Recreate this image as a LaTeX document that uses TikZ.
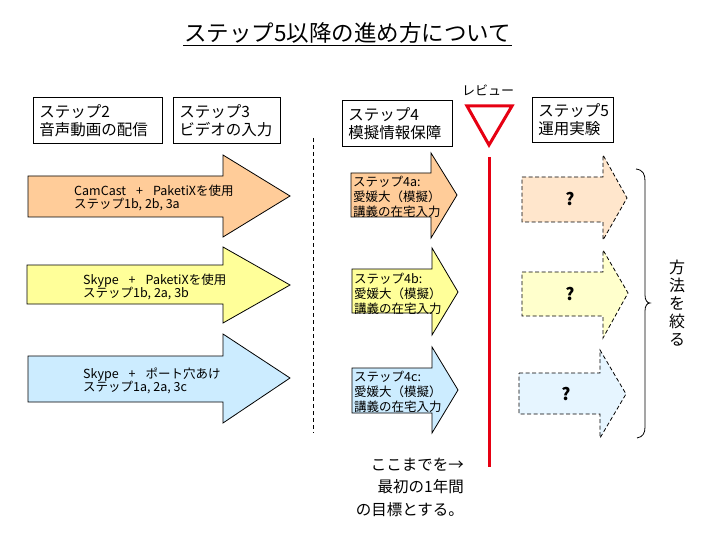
\documentclass[tikz,border=0pt]{standalone}
\usepackage{fontspec}
\setmainfont{Noto Sans CJK JP}
\definecolor{aorange}{RGB}{255,204,153}
\definecolor{ayellow}{RGB}{255,255,153}
\definecolor{ablue}{RGB}{204,236,255}
\definecolor{rvred}{RGB}{230,0,18}
\newcommand{\plusgap}{\hspace{10pt}+\hspace{10pt}}
\begin{document}
\begin{tikzpicture}[x=1pt,y=-1pt,
  stepbox/.style={draw, line width=0.8pt, inner xsep=6pt, inner ysep=0pt, align=left, anchor=north west, minimum height=46pt, font=\fontsize{15.5}{18}\selectfont},
  bigarrow/.style={draw, line width=0.8pt, line join=miter},
  qarrow/.style={draw, line width=0.8pt, dash pattern=on 4pt off 2.5pt},
  arrtext/.style={anchor=west, align=left, inner sep=0pt, font=\fontsize{12.5}{13.5}\selectfont},
  subtext/.style={anchor=west, align=left, inner sep=0pt, font=\fontsize{12.5}{15}\selectfont},
  qmark/.style={inner sep=0pt, font=\fontsize{17}{17}\selectfont\bfseries}
]
\useasboundingbox (0,0) rectangle (720,540);

% title
\node[inner sep=0pt, font=\fontsize{22.5}{24}\selectfont] (title) at (347.5,33) {ステップ5以降の進め方について};
\coordinate (tl) at (183,46);
\coordinate (tr) at (512,46);
\draw[line width=1pt] (tl) -- (tr);

% step boxes
\node[stepbox, text width=117pt] (s2) at (33,97) {ステップ2\\音声動画の配信};
\node[stepbox, text width=95pt] (s3) at (173,97) {ステップ3\\ビデオの入力};
\node[stepbox, text width=98pt] (s4) at (342,100) {ステップ4\\模擬情報保障};
\node[stepbox, text width=69pt, minimum height=45pt] (s5) at (532,97) {ステップ5\\運用実験};

% dashed separator
\coordinate (d1) at (313,138);
\coordinate (d2) at (313,433);
\draw[line width=0.7pt, dash pattern=on 4pt off 3pt] (d1) -- (d2);

% big arrows
\draw[bigarrow, fill=aorange] (28,176) -- (223,176) -- (223,155) -- (290,196) -- (223,237) -- (223,217) -- (28,217) -- cycle;
\draw[bigarrow, fill=ayellow] (27,265) -- (223,265) -- (223,247) -- (290,285) -- (223,323) -- (223,304) -- (27,304) -- cycle;
\draw[bigarrow, fill=ablue] (28,356) -- (223,356) -- (223,334) -- (290,378) -- (223,423) -- (223,402) -- (28,402) -- cycle;

\node[arrtext] (t1) at (74,198) {CamCast\plusgap PaketiXを使用\\ステップ1b, 2b, 3a};
\node[arrtext] (t2) at (83,287) {Skype\plusgap PaketiXを使用\\ステップ1b, 2a, 3b};
\node[arrtext] (t3) at (83,381) {Skype\plusgap ポート穴あけ\\ステップ1a, 2a, 3c};

% step 4 arrows
\draw[bigarrow, fill=aorange] (351,173) -- (431,173) -- (431,153) -- (457,195) -- (431,238) -- (431,217) -- (351,217) -- cycle;
\draw[bigarrow, fill=ayellow] (352,269) -- (432,269) -- (432,248) -- (458,292) -- (432,335) -- (432,313) -- (352,313) -- cycle;
\draw[bigarrow, fill=ablue] (352,368) -- (432,368) -- (432,347) -- (458,390) -- (432,433) -- (432,413) -- (352,413) -- cycle;

\node[subtext] (t4a) at (353,197) {ステップ4a:\\愛媛大（模擬）\\講義の在宅入力};
\node[subtext] (t4b) at (354,294) {ステップ4b:\\愛媛大（模擬）\\講義の在宅入力};
\node[subtext] (t4c) at (354,392) {ステップ4c:\\愛媛大（模擬）\\講義の在宅入力};

% review
\node[inner sep=0pt, font=\fontsize{13}{14}\selectfont] (rv) at (488,90) {レビュー};
\draw[draw=rvred, line width=3pt, fill=white, line join=miter] (467,106) -- (512,106) -- (489,145) -- cycle;
\coordinate (r1) at (489,157);
\coordinate (r2) at (489,467);
\draw[rvred, line width=3pt] (r1) -- (r2);

% step 5 dashed arrows
\draw[qarrow, fill=aorange!50!white] (522,177) -- (603,177) -- (603,155) -- (627,198) -- (603,240) -- (603,222) -- (522,222) -- cycle;
\draw[qarrow, fill=ayellow!50!white] (522,272) -- (603,272) -- (603,250) -- (628,293) -- (603,338) -- (603,316) -- (522,316) -- cycle;
\draw[qarrow, fill=ablue!50!white] (519,373) -- (600,373) -- (600,350) -- (626,394) -- (600,438) -- (600,414) -- (519,414) -- cycle;
\node[qmark] (q1) at (570,199) {?};
\node[qmark] (q2) at (570,294) {?};
\node[qmark] (q3) at (566,394) {?};

% brace
\draw[line width=0.8pt] (636,169) .. controls (643,170) and (645,174) .. (645,181)
  -- (645,295) .. controls (645,300) and (647,303) .. (650,303)
  .. controls (647,303) and (645,306) .. (645,311)
  -- (645,427) .. controls (645,433) and (643,437) .. (637,438);

% vertical text
\node[inner sep=0pt, align=center, font=\fontsize{16}{18}\selectfont] (narrow) at (677,303) {方\\法\\を\\絞\\る};

% bottom note
\node[inner sep=0pt, anchor=east, align=right, font=\fontsize{15.5}{22.5}\selectfont] (goal) at (464,487) {ここまでを→\\最初の1年間\\の目標とする。};
\end{tikzpicture}
\end{document}
